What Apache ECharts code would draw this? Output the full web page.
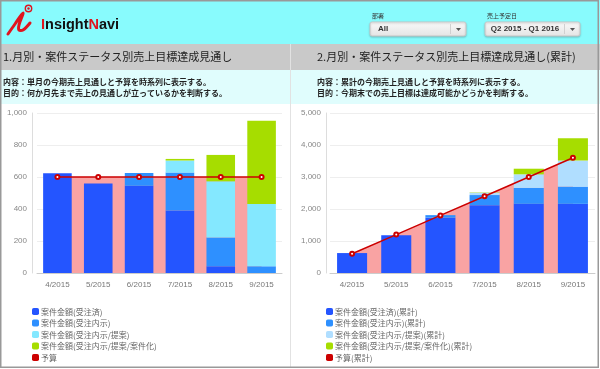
<!DOCTYPE html>
<html>
<head>
<meta charset="utf-8">
<script src="https://cdn.jsdelivr.net/npm/echarts@6/dist/echarts.min.js"></script>
<style>
html,body{margin:0;padding:0;background:#fff;}
#c{width:600px;height:369px;}
</style>
</head>
<body>
<div id="c"></div>
<script>
// ---- data ----
const categories = ['4/2015', '5/2015', '6/2015', '7/2015', '8/2015', '9/2015'];
// monthly
const ordered = [623, 560, 545, 391, 42, 0];
const informal = [0, 0, 80, 237, 180, 42];
const proposal = [0, 0, 0, 75, 351, 389];
const opportunity = [0, 0, 0, 10, 165, 521];
const budget = [600, 600, 600, 600, 600, 600];
// cumulative
const orderedCum = [623, 1183, 1728, 2119, 2161, 2161];
const informalCum = [0, 0, 80, 317, 497, 539];
const proposalCum = [0, 0, 0, 75, 426, 815];
const opportunityCum = [0, 0, 0, 10, 175, 696];
const budgetCum = [600, 1200, 1800, 2400, 3000, 3600];
// names
const namesL = ['案件金額(受注済)', '案件金額(受注内示)', '案件金額(受注内示/提案)', '案件金額(受注内示/提案/案件化)', '予算'];
const namesR = ['案件金額(受注済)(累計)', '案件金額(受注内示)(累計)', '案件金額(受注内示/提案)(累計)', '案件金額(受注内示/提案/案件化)(累計)', '予算(累計)'];
const yTicksL = { min: 0, max: 1000, interval: 200 };
const yTicksR = { min: 0, max: 5000, interval: 1000 };
// titles
const title1 = '1.月別・案件ステータス別売上目標達成見通し';
const title2 = '2.月別・案件ステータス別売上目標達成見通し(累計)';
const desc1a = '内容：単月の今期売上見通しと予算を時系列に表示する。';
const desc1b = '目的：何か月先まで売上の見通しが立っているかを判断する。';
const desc2a = '内容：累計の今期売上見通しと予算を時系列に表示する。';
const desc2b = '目的：今期末での売上目標は達成可能かどうかを判断する。';

const C_DARK = '#2455FF', C_MID = '#2E90FF', C_CYAN = '#84E8FF', C_LIGHT = '#B0DEFF', C_GREEN = '#A6DD00', C_RED = '#CC0000', C_PINK = '#F9A3A3';
const JP = '"Noto Sans CJK JP", "Noto Sans", sans-serif';
const LAT = '"Liberation Sans", Arial, sans-serif';

const chart = echarts.init(document.getElementById('c'), null, { renderer: 'canvas' });

function txt(x, y, text, size, color, opts) {
  opts = opts || {};
  return {
    type: 'text', x: x, y: y, z: 10,
    style: {
      text: text, fill: color, fontSize: size, fontFamily: opts.family || JP,
      fontWeight: opts.weight || 'normal',
      textAlign: opts.align || 'left',
      textVerticalAlign: 'middle'
    }
  };
}

function dropdown(x, w, label, value, centered) {
  const els = [];
  els.push(txt(x + 2, 16, label, 6, '#333'));
  els.push({ type: 'rect', shape: { x: x, y: 22, width: w, height: 14, r: 2 }, z: 5,
    style: { fill: new echarts.graphic.LinearGradient(0, 0, 0, 1, [{ offset: 0, color: '#fafafa' }, { offset: 1, color: '#e4e4e4' }]),
      stroke: '#c8c8c8', lineWidth: 1, shadowBlur: 2, shadowColor: 'rgba(0,0,0,0.2)', shadowOffsetY: 1 } });
  els.push({ type: 'line', shape: { x1: x + w - 15.5, y1: 24, x2: x + w - 15.5, y2: 34 }, z: 6, style: { stroke: '#d0d0d0', lineWidth: 1 } });
  els.push({ type: 'polygon', shape: { points: [[x + w - 10, 28], [x + w - 5, 28], [x + w - 7.5, 31]] }, z: 6, style: { fill: '#555' } });
  if (centered) els.push(txt(x + (w - 15) / 2, 29, value, 8, '#333', { family: LAT, align: 'center', weight: 'bold' }));
  else els.push(txt(x + 8, 29, value, 8, '#333', { family: LAT, weight: 'bold' }));
  return els;
}

const graphics = [
  { type: 'rect', shape: { x: 0, y: 0, width: 600, height: 44 }, z: 1, style: { fill: '#88FBFD' } },
  { type: 'rect', shape: { x: 0, y: 44, width: 600, height: 26 }, z: 1, style: { fill: '#C9C9C9' } },
  { type: 'rect', shape: { x: 0, y: 70, width: 600, height: 34 }, z: 1, style: { fill: '#E0FDFD' } },
  { type: 'line', shape: { x1: 290.5, y1: 44, x2: 290.5, y2: 367 }, z: 2, style: { stroke: '#e2e2e2', lineWidth: 1 } },
  // logo swoosh
  { type: 'polyline', z: 6, shape: { points: [[8, 34], [15, 24], [23, 13], [19, 25], [19, 30], [23, 30], [30, 23]], smooth: 0.35 },
    style: { fill: null, stroke: '#E0141E', lineWidth: 3, lineCap: 'round', lineJoin: 'round' } },
  { type: 'circle', z: 6, shape: { cx: 28.5, cy: 8.5, r: 3.2 }, style: { fill: null, stroke: '#E0141E', lineWidth: 1.4 } },
  { type: 'circle', z: 6, shape: { cx: 28.5, cy: 8.5, r: 1.2 }, style: { fill: '#E0141E' } },
  { type: 'text', x: 41, y: 25, z: 10, style: {
      text: '{r|I}{k|nsight}{r|N}{k|avi}', textVerticalAlign: 'middle',
      rich: { r: { fill: '#E0141E', fontSize: 14.5, fontWeight: 'bold', fontFamily: LAT },
              k: { fill: '#111', fontSize: 14.5, fontWeight: 'bold', fontFamily: LAT } } } },
  txt(3, 57, title1, 11, '#222'),
  txt(317, 57, title2, 11, '#222'),
  txt(3, 82, desc1a, 8, '#222', { weight: 'bold' }),
  txt(3, 93, desc1b, 8, '#222', { weight: 'bold' }),
  txt(317, 82, desc2a, 8, '#222', { weight: 'bold' }),
  txt(317, 93, desc2b, 8, '#222', { weight: 'bold' }),
  { type: 'rect', shape: { x: 0.75, y: 0.75, width: 597.5, height: 366.5 }, z: 20, style: { fill: null, stroke: '#999', lineWidth: 1.5 } }
].concat(dropdown(370, 96, '部署', 'All', false), dropdown(485, 95, '売上予定日', 'Q2 2015 - Q1 2016', true));

function yAxisCfg(ticks, gridIndex, offset) {
  return {
    type: 'value', gridIndex: gridIndex, min: ticks.min, max: ticks.max, interval: ticks.interval, offset: offset,
    axisLine: { show: true, lineStyle: { color: '#ddd' } },
    axisTick: { show: false },
    splitLine: { lineStyle: { color: '#eee' } },
    axisLabel: { color: '#888', fontSize: 8, fontFamily: LAT, margin: 5, formatter: v => v.toLocaleString('en-US') }
  };
}
function xAxisCfg(gridIndex) {
  return {
    type: 'category', gridIndex: gridIndex, data: categories,
    axisLine: { lineStyle: { color: '#ccc' } }, axisTick: { show: false },
    axisLabel: { color: '#777', fontSize: 8, fontFamily: LAT, margin: 8 }
  };
}
function barSeries(name, data, color, idx, stack, width) {
  return { type: 'bar', name: name, data: data, xAxisIndex: idx, yAxisIndex: idx, stack: stack, barWidth: width,
    itemStyle: { color: color }, z: 2, silent: true, animation: false };
}
function budgetSeries(name, data, idx) {
  return [
    { type: 'line', name: name + '_area', data: data, xAxisIndex: idx, yAxisIndex: idx, z: 1, symbol: 'none',
      lineStyle: { width: 0 }, areaStyle: { color: C_PINK, opacity: 1 }, silent: true, animation: false },
    { type: 'line', name: name, data: data, xAxisIndex: idx, yAxisIndex: idx, z: 3, symbol: 'emptyCircle', symbolSize: 4,
      itemStyle: { color: C_RED, borderWidth: 1 }, lineStyle: { color: C_RED, width: 1.5 }, silent: true, animation: false }
  ];
}
function legendCfg(names, left) {
  return {
    orient: 'vertical', left: left, top: 307.5, height: 60, padding: 0, itemWidth: 7, itemHeight: 7, itemGap: 3.5, icon: 'roundRect',
    data: names, selectedMode: false,
    textStyle: { color: '#666', fontSize: 8, lineHeight: 8, fontFamily: JP, padding: [0, 0, 0, -3] }
  };
}

const option = {
  animation: false,
  backgroundColor: '#fff',
  graphic: graphics,
  grid: [
    { left: 37, top: 113, width: 245, height: 160 },
    { left: 330, top: 113, width: 265, height: 160 }
  ],
  xAxis: [xAxisCfg(0), xAxisCfg(1)],
  yAxis: [yAxisCfg(yTicksL, 0, 5), yAxisCfg(yTicksR, 1, 4)],
  legend: [legendCfg(namesL, 32), legendCfg(namesR, 326)],
  series: [
    barSeries(namesL[0], ordered, C_DARK, 0, 'L', '70%'),
    barSeries(namesL[1], informal, C_MID, 0, 'L', '70%'),
    barSeries(namesL[2], proposal, C_CYAN, 0, 'L', '70%'),
    barSeries(namesL[3], opportunity, C_GREEN, 0, 'L', '70%'),
    ...budgetSeries(namesL[4], budget, 0),
    barSeries(namesR[0], orderedCum, C_DARK, 1, 'R', '68%'),
    barSeries(namesR[1], informalCum, C_MID, 1, 'R', '68%'),
    barSeries(namesR[2], proposalCum, C_LIGHT, 1, 'R', '68%'),
    barSeries(namesR[3], opportunityCum, C_GREEN, 1, 'R', '68%'),
    ...budgetSeries(namesR[4], budgetCum, 1)
  ]
};
chart.setOption(option);
</script>
</body>
</html>
